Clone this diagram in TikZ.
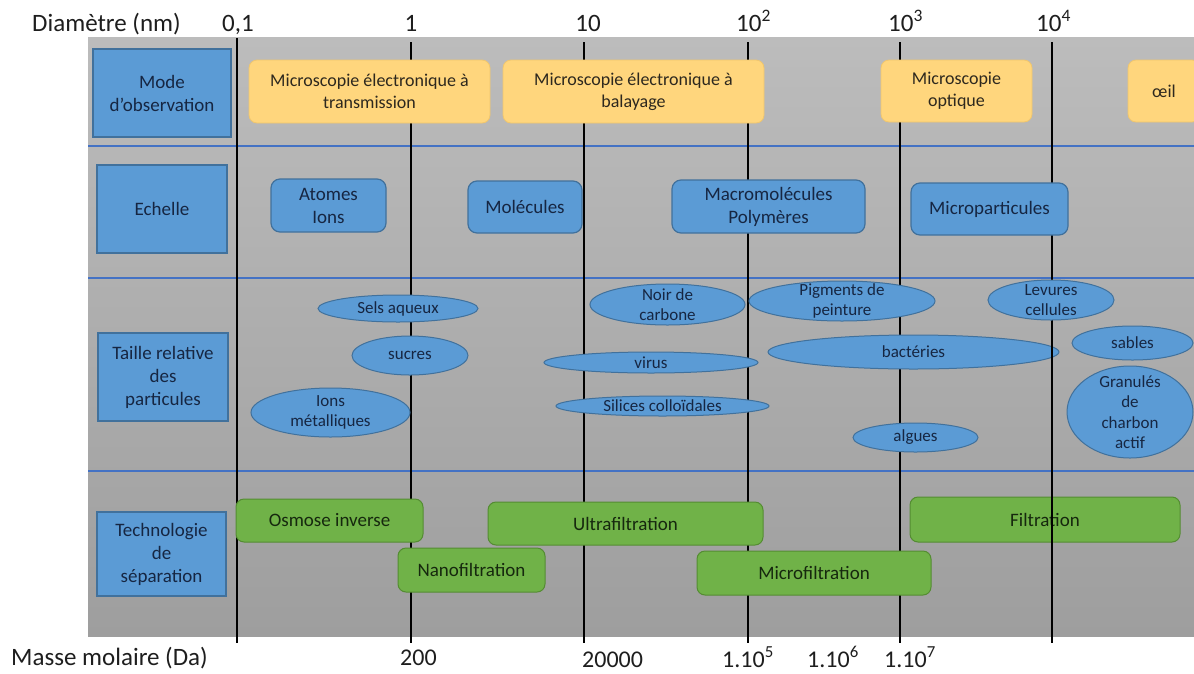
\documentclass[tikz,border=0pt]{standalone}
\usepackage{fontspec}
\setmainfont{Carlito}
\usetikzlibrary{shapes.geometric}
\definecolor{bgtop}{RGB}{188,188,188}
\definecolor{bgbot}{RGB}{158,158,158}
\definecolor{sepblue}{RGB}{68,114,196}
\definecolor{bfill}{RGB}{91,155,213}
\definecolor{bdraw}{RGB}{65,113,156}
\definecolor{yfill}{RGB}{255,214,125}
\definecolor{ydraw}{RGB}{240,198,110}
\definecolor{gfill}{RGB}{112,178,72}
\definecolor{gdraw}{RGB}{84,140,50}
\definecolor{btext}{RGB}{22,38,66}
\definecolor{gtext}{RGB}{22,40,14}
\definecolor{ytext}{RGB}{45,40,30}
\definecolor{axtext}{RGB}{30,30,30}
\tikzset{
  labelbox/.style={draw=bdraw, fill=bfill, line width=1.2pt, text=btext, align=center, inner sep=0pt, font=\fontsize{19}{23}\selectfont},
  scalebox/.style={labelbox, rounded corners=9pt},
  ybox/.style={fill=yfill, draw=ydraw, line width=0.8pt, rounded corners=8pt, text=ytext, align=center, inner sep=0pt, font=\fontsize{18}{22}\selectfont},
  gbox/.style={fill=gfill, draw=gdraw, line width=1pt, rounded corners=8pt, text=gtext, align=center, inner sep=0pt, font=\fontsize{19}{23}\selectfont},
  partell/.style={ellipse, draw=bdraw, fill=bfill, line width=1pt, inner sep=0pt},
  parttext/.style={text=btext, align=center, inner sep=0pt, font=\fontsize{17}{20.5}\selectfont},
  axislabel/.style={anchor=base west, inner sep=0pt, font=\fontsize{25}{30}\selectfont, text=axtext},
  axisnum/.style={anchor=base west, inner sep=0pt, font=\fontsize{24}{29}\selectfont, text=axtext},
  gridline/.style={black, line width=2pt},
  sepline/.style={sepblue, line width=2pt}
}
\begin{document}
\begin{tikzpicture}[x=1pt, y=-1pt]
\useasboundingbox (0,0) rectangle (1194,673);
\fill[white] (0,0) rectangle (1194,673);
% background
\shade[top color=bgtop, bottom color=bgbot] (88,37) rectangle (1194,636);
% separators
\foreach \yy in {146,278,471} \draw[sepline] (88,\yy) -- (1194,\yy);
% grid lines
\draw[gridline] (237,38) -- (237,643);
\foreach \xx in {411,584,748,900,1052} \draw[gridline] (\xx,42) -- (\xx,643);

% axis labels
\node[axislabel] (diam) at (32,31) {Diamètre (nm)};
\node[axislabel] (t01) at (222,31) {0,1};
\node[axislabel, anchor=base] (t1) at (411,31) {1};
\node[axislabel, anchor=base] (t10) at (588,31) {10};
\node[axislabel] (t100) at (736,31) {10\textsuperscript{2}};
\node[axislabel] (t1000) at (888,31) {10\textsuperscript{3}};
\node[axislabel] (t10000) at (1036,31) {10\textsuperscript{4}};

\node[axislabel] (masse) at (11,665) {Masse molaire (Da)};
\node[axisnum] (m200) at (400,665) {200};
\node[axisnum] (m20000) at (582,667) {20000};
\node[axisnum] (m1e5) at (722,667) {1.10\textsuperscript{5}};
\node[axisnum] (m1e6) at (807,667) {1.10\textsuperscript{6}};
\node[axisnum] (m1e7) at (884,667) {1.10\textsuperscript{7}};

% left column
\node[labelbox, minimum width=138pt, minimum height=88pt] (mode) at (162,93) {Mode\\d’observation};
\node[labelbox, minimum width=130pt, minimum height=88pt] (echelle) at (162,209) {Echelle};
\node[labelbox, minimum width=130pt, minimum height=88pt] (taille) at (163,377) {Taille relative\\des\\particules};
\node[labelbox, minimum width=129pt, minimum height=84pt] (techno) at (161.5,554) {Technologie\\de\\séparation};

% row 1: observation
\node[ybox, minimum width=241pt, minimum height=63pt] (met) at (369.5,91.5) {Microscopie électronique à\\transmission};
\node[ybox, minimum width=261pt, minimum height=63pt] (meb) at (633.5,91.5) {Microscopie électronique à\\balayage};
\node[ybox, minimum width=151pt, minimum height=62pt] (mo) at (956.5,91) {Microscopie\\optique};
\begin{scope}
\clip (0,0) rectangle (1194,673);
\node[ybox, minimum width=72pt, minimum height=62pt] (oeil) at (1164,91) {œil};
\end{scope}

% row 2: scale
\node[scalebox, minimum width=115pt, minimum height=53pt] (atomes) at (328.5,205.5) {Atomes\\Ions};
\node[scalebox, minimum width=114pt, minimum height=52pt] (molec) at (525,207) {Molécules};
\node[scalebox, minimum width=193pt, minimum height=53pt] (macro) at (768.5,206.5) {Macromolécules\\Polymères};
\node[scalebox, minimum width=157pt, minimum height=52pt] (micro) at (989.5,209) {Microparticules};

% row 3: particles
\node[partell, minimum width=160pt, minimum height=27pt] (sels) at (398,308.5) {};
\node[parttext] at (sels) {Sels aqueux};
\node[partell, minimum width=116pt, minimum height=39pt] (sucres) at (410,355.5) {};
\node[parttext] at (sucres) {sucres};
\node[partell, minimum width=159pt, minimum height=49pt] (ions) at (330.5,412.5) {};
\node[parttext] at (ions) {Ions\\métalliques};
\node[partell, minimum width=155pt, minimum height=41pt] (noir) at (667.5,304.5) {};
\node[parttext] at (noir) {Noir de\\carbone};
\node[partell, minimum width=186pt, minimum height=40pt] (pigm) at (842,301) {};
\node[parttext] at (pigm) {Pigments de\\peinture};
\node[partell, minimum width=214pt, minimum height=21pt] (virus) at (651,362.5) {};
\node[parttext] at (virus) {virus};
\node[partell, minimum width=213pt, minimum height=20pt] (silices) at (662.5,406) {};
\node[parttext] at (silices) {Silices colloïdales};
\node[partell, minimum width=291pt, minimum height=34pt] (bact) at (913.5,352) {};
\node[partell, minimum width=125pt, minimum height=29pt] (algues) at (915.5,437.5) {};
\node[parttext] at (algues) {algues};
\node[partell, minimum width=121pt, minimum height=34pt] (sables) at (1132.5,343) {};
\node[parttext] at (sables) {sables};
\node[partell, minimum width=126pt, minimum height=92pt] (gran) at (1130,412) {};
\node[parttext] at (gran) {Granulés\\de\\charbon\\actif};

% row 4: separation
\node[gbox, minimum width=187pt, minimum height=43pt] (osmose) at (329.5,520.5) {Osmose inverse};
\node[gbox, minimum width=147pt, minimum height=44pt] (nano) at (471.5,570) {Nanofiltration};
\node[gbox, minimum width=275pt, minimum height=43pt] (ultra) at (625.5,523.5) {Ultrafiltration};
\node[gbox, minimum width=234pt, minimum height=44pt] (microf) at (814,573) {Microfiltration};
\node[gbox, minimum width=270pt, minimum height=45pt] (filtr) at (1045,519.5) {Filtration};

% the 10^4 line passes over the lower shapes
\draw[gridline] (1052,321) -- (1052,643);
\node[parttext] at (bact) {bactéries};
\node[partell, minimum width=126pt, minimum height=40pt] (levures) at (1051,300) {};
\node[parttext] at (levures) {Levures\\cellules};
\end{tikzpicture}
\end{document}
